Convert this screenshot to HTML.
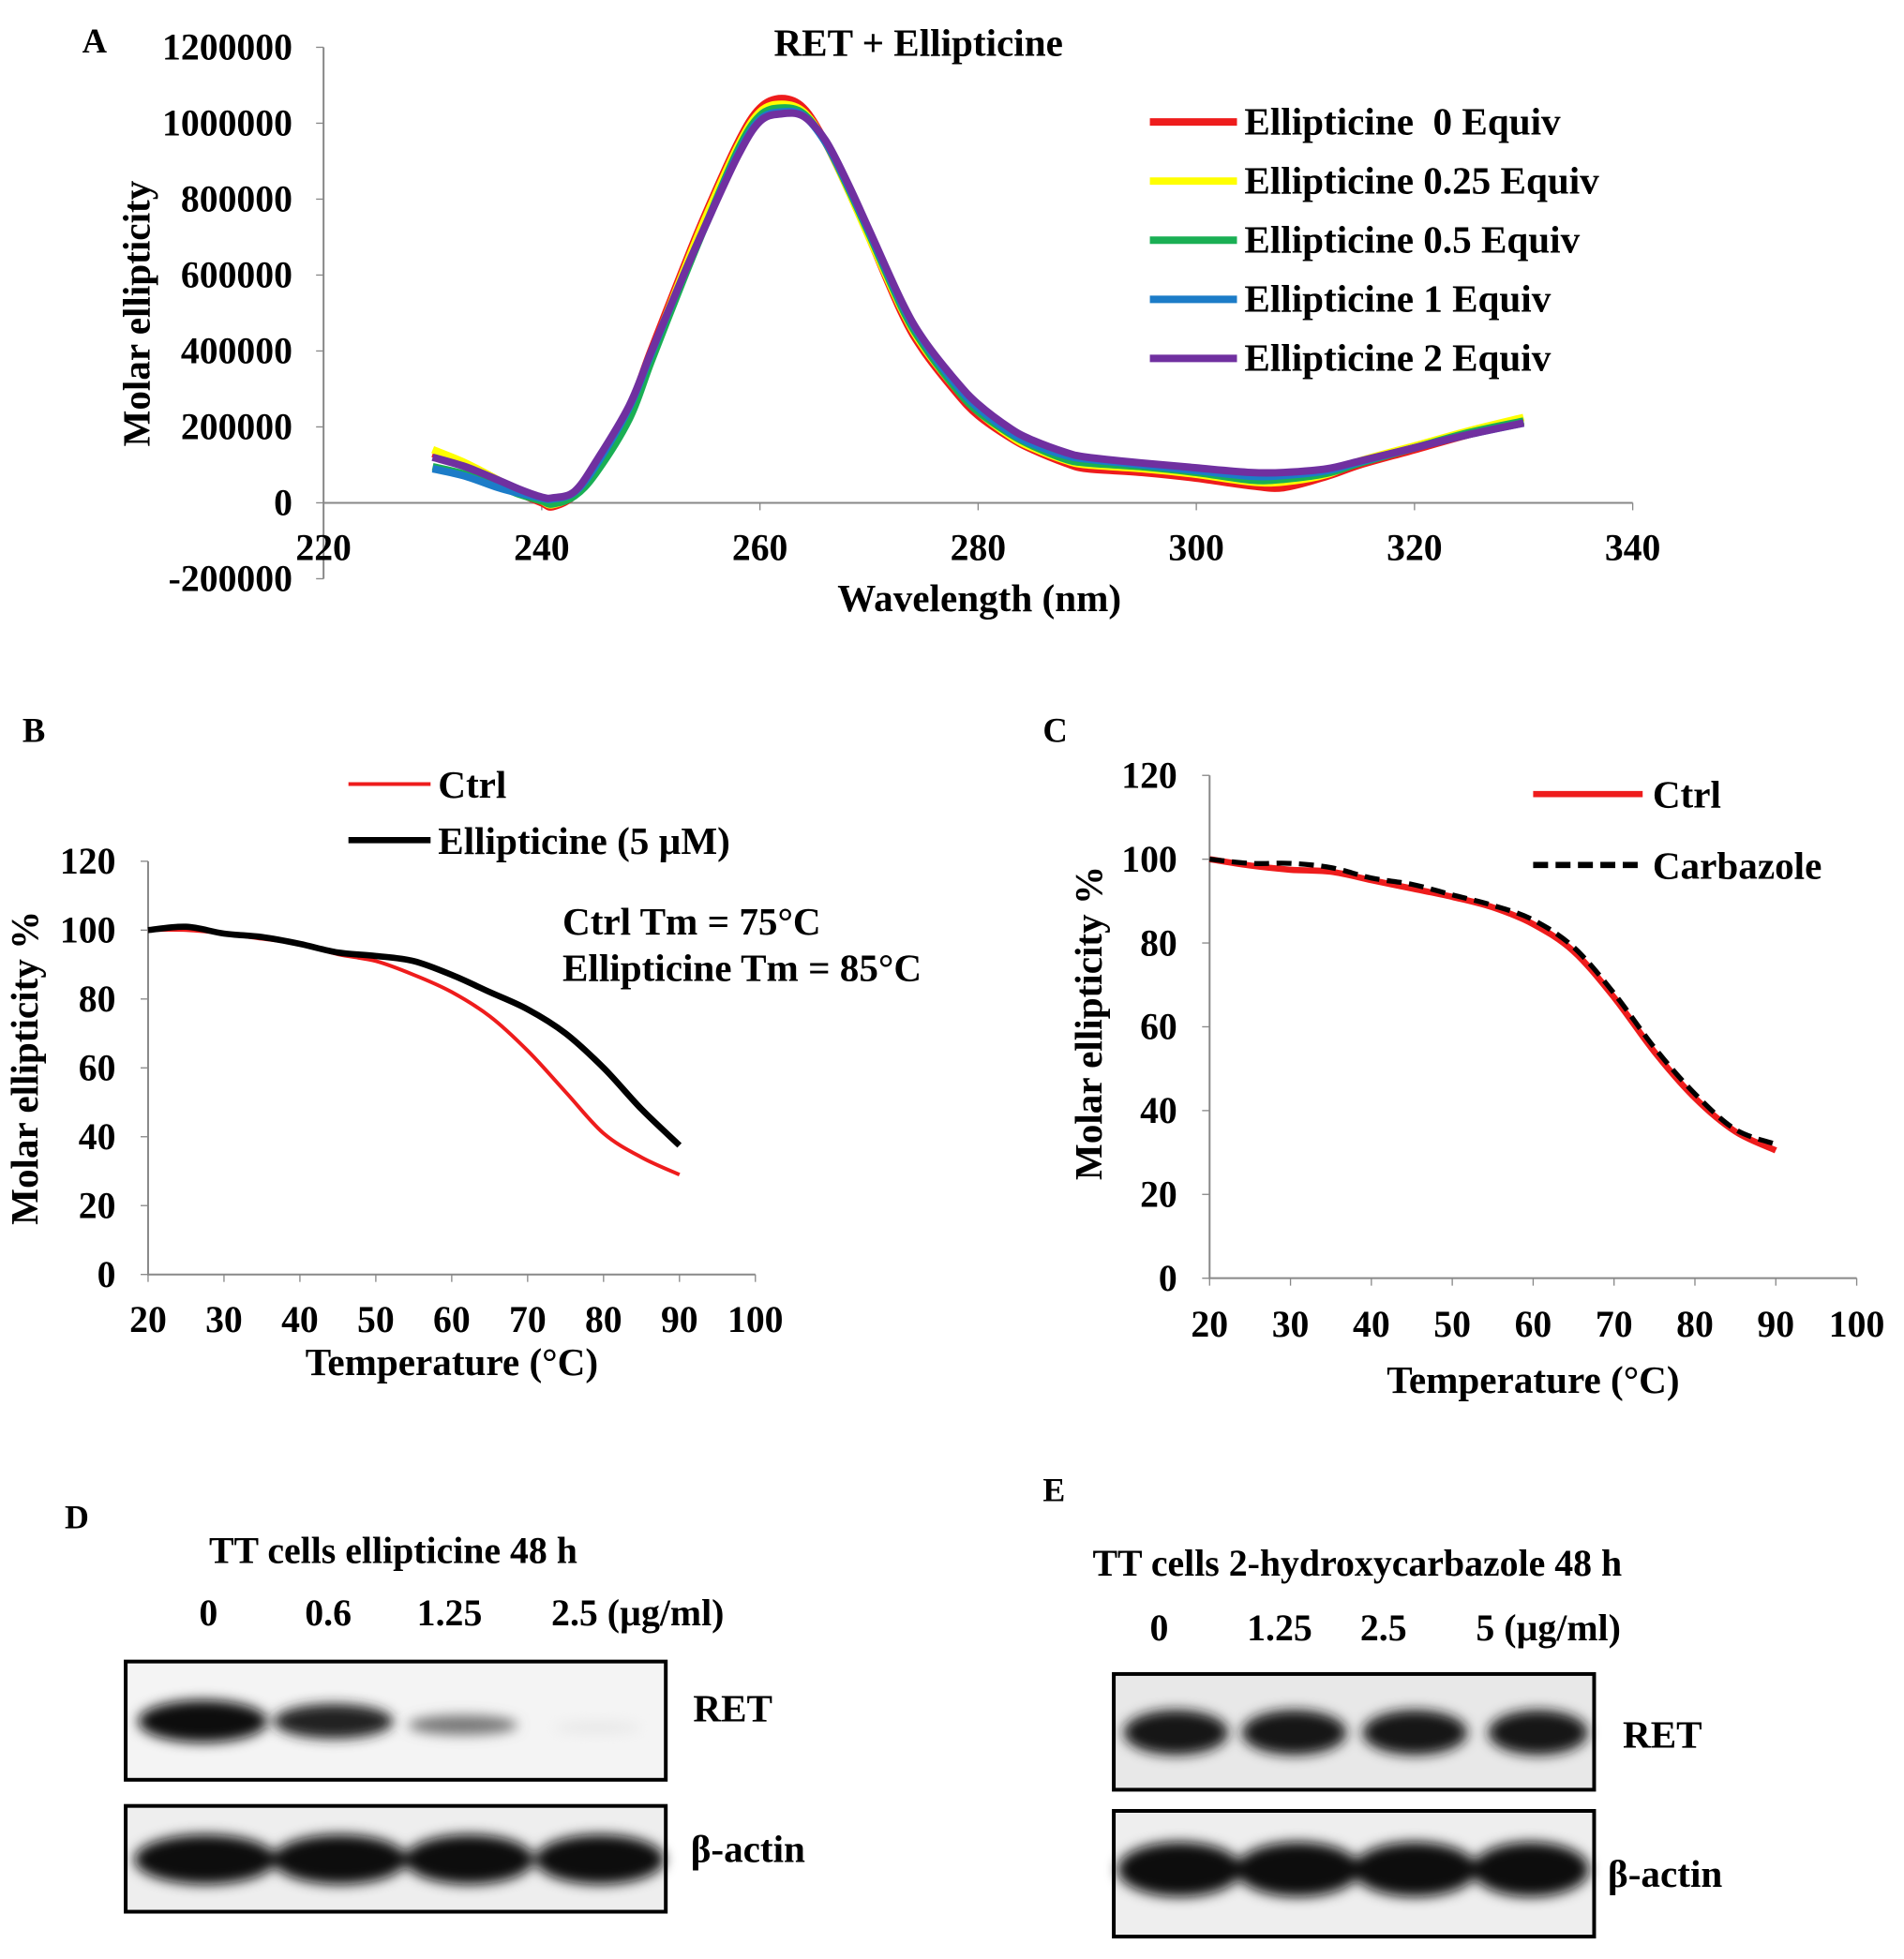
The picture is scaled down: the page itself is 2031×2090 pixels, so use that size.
<!DOCTYPE html>
<html><head><meta charset="utf-8"><style>
html,body{margin:0;padding:0;background:#fff}
svg{display:block}
text{font-family:"Liberation Serif",serif;font-weight:bold;fill:#000}
</style></head><body>
<svg width="2031" height="2090" viewBox="0 0 1530 1574" preserveAspectRatio="none">
<defs>
<filter id="bl" x="-20%" y="-50%" width="140%" height="200%"><feGaussianBlur stdDeviation="5"/></filter>
</defs>
<g id="pa"></g>
<g id="pb"></g>
<g id="pc"></g>
<g id="blots">
<text x="52" y="1228" font-size="27">D</text>
<text x="168" y="1256" font-size="30">TT cells ellipticine 48 h</text>
<text x="160" y="1306" font-size="30">0</text>
<text x="245" y="1306" font-size="30">0.6</text>
<text x="335" y="1306" font-size="30">1.25</text>
<text x="443" y="1306" font-size="30">2.5 (µg/ml)</text>
<rect x="101" y="1335" width="434" height="95" fill="#f4f4f4" stroke="#000" stroke-width="3"/>
<g filter="url(#bl)"><ellipse cx="163" cy="1383" rx="52" ry="17" fill="#111"/><ellipse cx="268" cy="1383" rx="48" ry="14" fill="#222"/><ellipse cx="372" cy="1386" rx="44" ry="8" fill="#777"/><ellipse cx="480" cy="1388" rx="35" ry="5" fill="#e8e8e8"/></g>
<text x="557" y="1383" font-size="31">RET</text>
<rect x="101" y="1451" width="434" height="85" fill="#eee" stroke="#000" stroke-width="3"/>
<g filter="url(#bl)"><ellipse cx="165" cy="1494" rx="57" ry="20" fill="#111"/><ellipse cx="273" cy="1494" rx="54" ry="20" fill="#111"/><ellipse cx="377" cy="1494" rx="52" ry="20" fill="#111"/><ellipse cx="482" cy="1494" rx="52" ry="20" fill="#111"/></g>
<text x="555" y="1496" font-size="31">β-actin</text>
<text x="838" y="1206" font-size="27">E</text>
<text x="878" y="1266" font-size="30">TT cells 2-hydroxycarbazole 48 h</text>
<text x="924" y="1318" font-size="30">0</text>
<text x="1002" y="1318" font-size="30">1.25</text>
<text x="1093" y="1318" font-size="30">2.5</text>
<text x="1186" y="1318" font-size="30">5  (µg/ml)</text>
<rect x="895" y="1345" width="386" height="93" fill="#e8e8e8" stroke="#000" stroke-width="3"/>
<g filter="url(#bl)"><ellipse cx="945" cy="1392" rx="42" ry="18" fill="#151515"/><ellipse cx="1040" cy="1392" rx="42" ry="18" fill="#151515"/><ellipse cx="1137" cy="1392" rx="42" ry="18" fill="#151515"/><ellipse cx="1236" cy="1392" rx="40" ry="18" fill="#151515"/></g>
<text x="1304" y="1404" font-size="31">RET</text>
<rect x="895" y="1455" width="386" height="101" fill="#eee" stroke="#000" stroke-width="3"/>
<g filter="url(#bl)"><ellipse cx="948" cy="1502" rx="50" ry="22" fill="#0e0e0e"/><ellipse cx="1043" cy="1502" rx="50" ry="22" fill="#0e0e0e"/><ellipse cx="1137" cy="1502" rx="50" ry="22" fill="#0e0e0e"/><ellipse cx="1230" cy="1502" rx="47" ry="22" fill="#0e0e0e"/></g>
<text x="1292" y="1516" font-size="31">β-actin</text>
</g>
</svg>
<script>
// Panel A data
const aWl=[230,233,236,238,240,241,243,245,248,250,253,255,258,260,262,264,266,268,270,273,275,278,280,283,285,288,290,295,300,305,308,312,315,320,325,330];
const aRed=[130000,100000,55000,25000,0,-10000,20000,100000,250000,400000,620000,760000,950000,1040000,1065000,1040000,950000,830000,700000,500000,400000,290000,230000,170000,140000,105000,90000,80000,65000,45000,40000,70000,100000,140000,180000,215000];
const aYellow=[140000,105000,60000,28000,5000,-5000,22000,95000,240000,390000,610000,750000,940000,1030000,1050000,1030000,950000,830000,700000,510000,410000,300000,240000,175000,145000,112000,100000,90000,75000,55000,55000,75000,110000,150000,190000,225000];
const aGreen=[95000,75000,45000,22000,5000,-3000,18000,80000,220000,370000,590000,730000,930000,1020000,1040000,1025000,950000,835000,710000,515000,415000,300000,240000,180000,150000,115000,105000,95000,80000,60000,62000,78000,105000,145000,185000,215000];
const aBlue=[90000,70000,40000,25000,12000,10000,28000,100000,250000,390000,600000,730000,920000,1010000,1030000,1020000,950000,840000,715000,525000,425000,310000,250000,185000,155000,125000,115000,100000,85000,70000,72000,85000,108000,145000,180000,210000];
const aPurple=[120000,95000,60000,35000,15000,13000,30000,110000,255000,395000,600000,730000,915000,1005000,1025000,1018000,955000,845000,720000,530000,430000,320000,260000,195000,165000,133000,120000,105000,92000,80000,80000,90000,110000,145000,180000,210000];
const aYTicks=[-200000,0,200000,400000,600000,800000,1000000,1200000];
const aXTicks=[220,240,260,280,300,320,340];
const aSeriesNames=["Ellipticine  0 Equiv","Ellipticine 0.25 Equiv","Ellipticine 0.5 Equiv","Ellipticine 1 Equiv","Ellipticine 2 Equiv"];
// Panel B data
const bTemp=[20,25,30,35,40,45,50,55,60,65,70,75,80,85,90];
const bCtrl=[100,100,99,97.5,96,93,91,87,82,75,65,53,41,34,29];
const bEll=[100,101,99,98,96,93.5,92.5,91,87,82,77,70,60,48,37.5];
const bYTicks=[0,20,40,60,80,100,120];
const bXTicks=[20,30,40,50,60,70,80,90,100];
// Panel C data
const cTemp=[20,25,30,35,40,45,50,55,60,65,70,75,80,85,90];
const cCtrl=[100,98.5,97.5,97,95,93,91,88.5,84.5,78,67,54,43,35,30.5];
const cCarb=[100,99,99,98,95.5,94,91.5,89,85.5,79,68,55,44,35.5,32];
const cYTicks=[0,20,40,60,80,100,120];
const cXTicks=[20,30,40,50,60,70,80,90,100];

const NS="http://www.w3.org/2000/svg";
const FS=1.15;
function mk(p,tag,attrs){const e=document.createElementNS(NS,tag);for(const k in attrs)e.setAttribute(k,attrs[k]);p.appendChild(e);return e;}
function txt(p,x,y,s,size,anchor){const t=mk(p,"text",{x:x,y:y,"font-size":(size*FS).toFixed(1),"text-anchor":anchor||"start"});t.textContent=s;return t;}
function smooth(pts){let d="M"+pts[0][0].toFixed(1)+" "+pts[0][1].toFixed(1);
for(let i=0;i<pts.length-1;i++){const p0=pts[Math.max(0,i-1)],p1=pts[i],p2=pts[i+1],p3=pts[Math.min(pts.length-1,i+2)];
const c1=[p1[0]+(p2[0]-p0[0])/6,p1[1]+(p2[1]-p0[1])/6],c2=[p2[0]-(p3[0]-p1[0])/6,p2[1]-(p3[1]-p1[1])/6];
d+=` C${c1[0].toFixed(1)} ${c1[1].toFixed(1)} ${c2[0].toFixed(1)} ${c2[1].toFixed(1)} ${p2[0].toFixed(1)} ${p2[1].toFixed(1)}`;}
return d;}

// ---------- Panel A ----------
(function(){
const g=document.getElementById("pa");
const X=v=>260+(v-220)*(1052/120), Y=v=>404-v*(61/200000);
const ax=mk(g,"path",{d:`M260 ${Y(1200000)} V${Y(-200000)} M260 404 H1312`,stroke:"#888","stroke-width":1.5,fill:"none"});


aYTicks.forEach(v=>{mk(g,"line",{x1:254,x2:260,y1:Y(v),y2:Y(v),stroke:"#888"});
const t=txt(g,235,Y(v)+10,String(v),26,"end");

});
aXTicks.forEach(v=>{mk(g,"line",{x1:X(v),x2:X(v),y1:404,y2:410,stroke:"#888"});
const t=txt(g,X(v),450,String(v),26,"middle");

});
let t=txt(g,66,42,"A",24);
t=txt(g,738,45,"RET + Ellipticine",27,"middle");
t=txt(g,787,491,"Wavelength (nm)",27,"middle");
t=txt(g,0,0,"Molar ellipticity",27,"middle");t.setAttribute('transform','translate(120,252) rotate(-90)');

const series=[aRed,aYellow,aGreen,aBlue,aPurple];const cols=["#ee1c1c","#ffff00","#1aaf54","#1c7cc8","#7030a0"];
series.forEach((s,i)=>{const d=smooth(s.map((v,j)=>[X(aWl[j]),Y(v)]));
const p=mk(g,"path",{d:d,stroke:cols[i],"stroke-width":6,fill:"none","stroke-linejoin":"round"});

const ly=98+i*47.5;
const l=mk(g,"line",{x1:924,x2:994,y1:ly,y2:ly,stroke:cols[i],"stroke-width":6});

const lt=txt(g,1000,ly+10,aSeriesNames[i],27);lt.style.whiteSpace='pre';});
})();

// ---------- Panel B ----------
(function(){
const g=document.getElementById("pb");
const X=v=>119+(v-20)*(488/80), Y=v=>1024-v*(332/120);
const ax=mk(g,"path",{d:`M119 ${Y(120)} V1024 H607`,stroke:"#888","stroke-width":1.5,fill:"none"});

bYTicks.forEach(v=>{mk(g,"line",{x1:113,x2:119,y1:Y(v),y2:Y(v),stroke:"#888"});
const t=txt(g,93,Y(v)+10,String(v),26,"end");});
bXTicks.forEach(v=>{mk(g,"line",{x1:X(v),x2:X(v),y1:1024,y2:1030,stroke:"#888"});
const t=txt(g,X(v),1070,String(v),26,"middle");});
let t=txt(g,18,596,"B",24);
t=txt(g,363,1105,"Temperature (°C)",27,"middle");
t=txt(g,0,0,"Molar ellipticity %",27,"middle");t.setAttribute('transform','translate(30,858) rotate(-90)');

[[bCtrl,"#ee1c1c",3],[bEll,"#000",5]].forEach(([s,c,w])=>{const d=smooth(s.map((v,j)=>[X(bTemp[j]),Y(v)]));
const p=mk(g,"path",{d:d,stroke:c,"stroke-width":w,fill:"none"});});
let l=mk(g,"line",{x1:280,x2:346,y1:630,y2:630,stroke:"#ee1c1c","stroke-width":3});
t=txt(g,352,641,"Ctrl",27);
l=mk(g,"line",{x1:280,x2:346,y1:675,y2:675,stroke:"#000","stroke-width":5});
t=txt(g,352,686,"Ellipticine (5 µM)",27);
t=txt(g,452,751,"Ctrl Tm = 75°C",27);
t=txt(g,452,788,"Ellipticine Tm = 85°C",27);
})();

// ---------- Panel C ----------
(function(){
const g=document.getElementById("pc");
const X=v=>972+(v-20)*(520/80), Y=v=>1027-v*(404/120);
const ax=mk(g,"path",{d:`M972 ${Y(120)} V1027 H1492`,stroke:"#888","stroke-width":1.5,fill:"none"});

cYTicks.forEach(v=>{mk(g,"line",{x1:966,x2:972,y1:Y(v),y2:Y(v),stroke:"#888"});
const t=txt(g,946,Y(v)+10,String(v),26,"end");});
cXTicks.forEach(v=>{mk(g,"line",{x1:X(v),x2:X(v),y1:1027,y2:1033,stroke:"#888"});
const t=txt(g,X(v),1074,String(v),26,"middle");});
let t=txt(g,838,596,"C",24);
t=txt(g,1232,1119,"Temperature (°C)",27,"middle");
t=txt(g,0,0,"Molar ellipticity %",27,"middle");t.setAttribute('transform','translate(885,822) rotate(-90)');

[[cCtrl,"#ee1c1c",5,""],[cCarb,"#000",4,"12,6"]].forEach(([s,c,w,da])=>{const d=smooth(s.map((v,j)=>[X(cTemp[j]),Y(v)]));
const p=mk(g,"path",{d:d,stroke:c,"stroke-width":w,fill:"none"});if(da)p.setAttribute("stroke-dasharray",da);
});
let l=mk(g,"line",{x1:1232,x2:1320,y1:638,y2:638,stroke:"#ee1c1c","stroke-width":5});
t=txt(g,1328,649,"Ctrl",27);
l=mk(g,"line",{x1:1232,x2:1320,y1:695,y2:695,stroke:"#000","stroke-width":5,"stroke-dasharray":"12,6"});
t=txt(g,1328,706,"Carbazole",27);
})();
</script>
</body></html>
